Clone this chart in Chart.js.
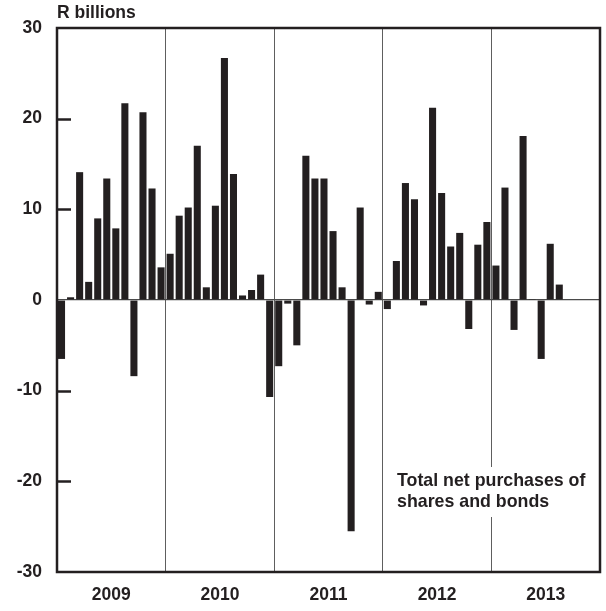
<!DOCTYPE html>
<html>
<head>
<meta charset="utf-8">
<script src="https://cdn.jsdelivr.net/npm/chart.js@4/dist/chart.umd.min.js"></script>
<style>
html,body{margin:0;padding:0;background:#fff;}
#wrap{width:606px;height:611px;}
</style>
</head>
<body>
<div id="wrap"><canvas id="c" width="606" height="611"></canvas></div>
<script>
const years = ['2009', '2010', '2011', '2012', '2013'];
const months = ['Jan','Feb','Mar','Apr','May','Jun','Jul','Aug','Sep','Oct','Nov','Dec'];
const v2009 = [-6.5, 0.3, 14.1, 2.0, 9.0, 13.4, 7.9, 21.7, -8.4, 20.7, 12.3, 3.6];
const v2010 = [5.1, 9.3, 10.2, 17.0, 1.4, 10.4, 26.7, 13.9, 0.5, 1.1, 2.8, -10.7];
const v2011 = [-7.3, -0.4, -5.0, 15.9, 13.4, 13.4, 7.6, 1.4, -25.5, 10.2, -0.5, 0.9];
const v2012 = [-1.0, 4.3, 12.9, 11.1, -0.6, 21.2, 11.8, 5.9, 7.4, -3.2, 6.1, 8.6];
const v2013 = [3.8, 12.4, -3.3, 18.1, 0.1, -6.5, 6.2, 1.7, null, null, null, null];
const yTicks = [-30, -20, -10, 0, 10, 20, 30];
const unitLabel = 'R billions';
const noteLines = ['Total net purchases of', 'shares and bonds'];

const monthLabels = [];
years.forEach(y => months.forEach(m => monthLabels.push(m + ' ' + y)));
const values = [].concat(v2009, v2010, v2011, v2012, v2013);

const FONT = '"Liberation Sans", Arial, sans-serif';
const INK = '#231f20';

const decor = {
  id: 'decor',
  afterDraw(chart) {
    const ctx = chart.ctx;
    const a = chart.chartArea;
    const ys = chart.scales.y;
    ctx.save();
    ctx.strokeStyle = INK;
    ctx.lineWidth = 2.5;
    [-20, -10, 10, 20].forEach(v => {
      const py = Math.round(ys.getPixelForValue(v)) + 0.5;
      ctx.beginPath();
      ctx.moveTo(a.left, py);
      ctx.lineTo(a.left + 14, py);
      ctx.stroke();
    });
    ctx.lineWidth = 2.5;
    ctx.strokeRect(a.left, a.top, a.right - a.left, a.bottom - a.top);
    ctx.fillStyle = INK;
    ctx.font = 'bold 17.5px ' + FONT;
    ctx.textBaseline = 'middle';
    ctx.textAlign = 'left';
    ctx.fillText(unitLabel, a.left, 13);
    const nx = 397, ny = 481;
    ctx.font = 'bold 17.8px ' + FONT;
    let w = 0;
    noteLines.forEach(l => { w = Math.max(w, ctx.measureText(l).width); });
    ctx.fillStyle = '#fff';
    ctx.fillRect(nx - 3, ny - 14, w + 6, 50);
    ctx.fillStyle = INK;
    noteLines.forEach((l, i) => ctx.fillText(l, nx, ny + i * 21));
    ctx.restore();
  }
};

new Chart(document.getElementById('c'), {
  type: 'bar',
  data: {
    labels: monthLabels,
    datasets: [{
      data: values,
      backgroundColor: INK,
      borderWidth: 0,
      barPercentage: 0.78,
      categoryPercentage: 1.0,
      xAxisID: 'x',
      yAxisID: 'y'
    }]
  },
  options: {
    responsive: false,
    animation: false,
    devicePixelRatio: 1,
    layout: { padding: { top: 28, right: 6, left: 0, bottom: 0 } },
    plugins: { legend: { display: false }, tooltip: { enabled: false }, title: { display: false } },
    scales: {
      x: {
        type: 'category',
        display: false,
        offset: true
      },
      xYear: {
        type: 'category',
        labels: years,
        position: 'bottom',
        offset: true,
        grid: { offset: true, color: '#5e5e5e', lineWidth: 1, drawTicks: false },
        border: { display: false },
        ticks: { color: INK, font: { family: FONT, size: 17.5, weight: 'bold' }, padding: 13 },
        afterFit(s) { s.height = 39; }
      },
      y: {
        min: -30,
        max: 30,
        afterBuildTicks(s) { s.ticks = yTicks.map(v => ({ value: v })); },
        grid: {
          drawTicks: false,
          color: c => (c.tick && c.tick.value === 0) ? '#4a4a4a' : 'rgba(0,0,0,0)',
          lineWidth: 1.2
        },
        border: { display: false },
        ticks: { color: INK, font: { family: FONT, size: 17.5, weight: 'bold' }, padding: 15 },
        afterFit(s) { s.width = 57; }
      }
    }
  },
  plugins: [decor]
});
</script>
</body>
</html>
